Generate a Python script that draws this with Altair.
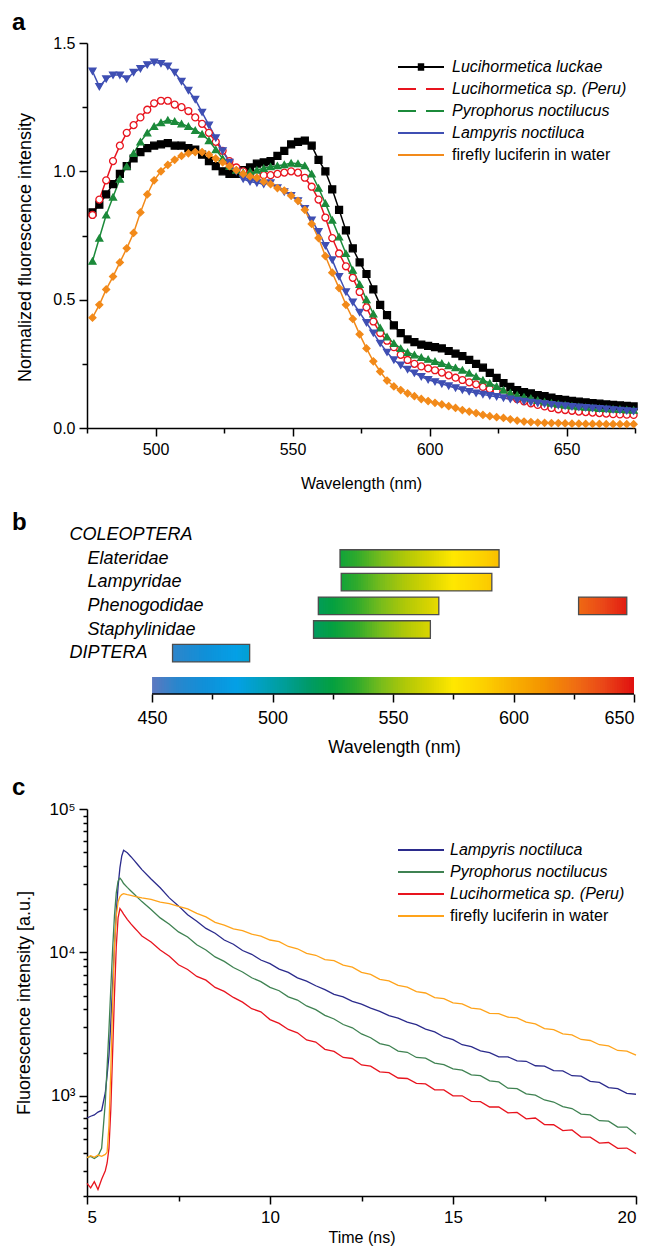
import altair as alt
import pandas as pd

FONT = "Liberation Sans"

# ---------------- panel a : normalized fluorescence spectra ----------------
wl_a = [477 + 2.5 * i for i in range(80)]

luckae = [0.84, 0.87, 0.91, 0.95, 0.99, 1.02, 1.05, 1.075, 1.09, 1.10,
          1.105, 1.11, 1.10, 1.10, 1.09, 1.085, 1.065, 1.04, 1.02, 1.00,
          0.99, 0.99, 1.005, 1.015, 1.03, 1.035, 1.04, 1.06, 1.08, 1.105,
          1.115, 1.12, 1.10, 1.045, 1.00, 0.93, 0.85, 0.77, 0.70, 0.645,
          0.60, 0.54, 0.48, 0.44, 0.40, 0.37, 0.345, 0.335, 0.325, 0.32,
          0.315, 0.31, 0.30, 0.29, 0.28, 0.265, 0.25, 0.235, 0.215, 0.195,
          0.175, 0.16, 0.148, 0.14, 0.135, 0.128, 0.124, 0.118, 0.113, 0.11,
          0.106, 0.103, 0.10, 0.097, 0.095, 0.092, 0.09, 0.088, 0.086, 0.084]
peru = [0.83, 0.89, 0.965, 1.04, 1.10, 1.15, 1.18, 1.21, 1.24, 1.265,
        1.275, 1.275, 1.26, 1.25, 1.235, 1.21, 1.185, 1.15, 1.115, 1.08,
        1.04, 1.015, 1.00, 0.99, 0.985, 0.985, 0.985, 0.99, 0.995, 1.00,
        0.995, 0.975, 0.94, 0.89, 0.82, 0.74, 0.68, 0.63, 0.585, 0.53,
        0.47, 0.415, 0.37, 0.34, 0.315, 0.285, 0.265, 0.25, 0.24, 0.232,
        0.225, 0.216, 0.205, 0.196, 0.187, 0.178, 0.17, 0.16, 0.152, 0.143,
        0.135, 0.124, 0.113, 0.104, 0.096, 0.09, 0.084, 0.078, 0.073, 0.07,
        0.067, 0.064, 0.062, 0.06, 0.058, 0.056, 0.054, 0.053, 0.052, 0.051]
pyro = [0.65, 0.74, 0.83, 0.90, 0.97, 1.02, 1.07, 1.115, 1.15, 1.175,
        1.19, 1.20, 1.195, 1.185, 1.175, 1.16, 1.145, 1.12, 1.085, 1.05,
        1.02, 1.005, 0.995, 1.00, 1.005, 1.012, 1.018, 1.022, 1.026, 1.032,
        1.03, 1.022, 0.99, 0.935, 0.875, 0.81, 0.745, 0.68, 0.615, 0.56,
        0.50, 0.445, 0.39, 0.355, 0.33, 0.31, 0.295, 0.285, 0.275, 0.268,
        0.26, 0.252, 0.243, 0.235, 0.226, 0.214, 0.20, 0.187, 0.175, 0.162,
        0.148, 0.137, 0.128, 0.121, 0.116, 0.108, 0.102, 0.097, 0.093, 0.089,
        0.086, 0.083, 0.081, 0.079, 0.077, 0.076, 0.074, 0.073, 0.071, 0.07]
lampyris = [1.39, 1.33, 1.36, 1.375, 1.375, 1.36, 1.385, 1.40, 1.415, 1.425,
            1.42, 1.41, 1.385, 1.35, 1.315, 1.28, 1.23, 1.18, 1.13, 1.08,
            1.035, 1.00, 0.97, 0.96, 0.955, 0.95, 0.955, 0.935, 0.92, 0.905,
            0.885, 0.855, 0.81, 0.765, 0.71, 0.655, 0.59, 0.53, 0.49, 0.45,
            0.41, 0.37, 0.33, 0.295, 0.265, 0.245, 0.228, 0.214, 0.20, 0.188,
            0.18, 0.172, 0.164, 0.156, 0.148, 0.142, 0.136, 0.131, 0.126, 0.122,
            0.117, 0.112, 0.108, 0.104, 0.10, 0.097, 0.094, 0.091, 0.088, 0.086,
            0.083, 0.081, 0.079, 0.077, 0.075, 0.073, 0.071, 0.069, 0.067, 0.065]
water = [0.43, 0.48, 0.54, 0.59, 0.645, 0.70, 0.76, 0.84, 0.91, 0.965,
         1.00, 1.025, 1.045, 1.06, 1.07, 1.075, 1.075, 1.065, 1.05, 1.035,
         1.02, 1.005, 0.99, 0.98, 0.975, 0.96, 0.95, 0.935, 0.925, 0.905,
         0.885, 0.85, 0.795, 0.74, 0.67, 0.605, 0.545, 0.48, 0.425, 0.365,
         0.31, 0.26, 0.22, 0.185, 0.162, 0.148, 0.135, 0.124, 0.113, 0.105,
         0.098, 0.092, 0.085, 0.078, 0.07, 0.064, 0.058, 0.051, 0.046, 0.042,
         0.039, 0.034, 0.029, 0.025, 0.023, 0.021, 0.02, 0.019, 0.019, 0.018,
         0.017, 0.017, 0.016, 0.016, 0.016, 0.015, 0.015, 0.015, 0.015, 0.015]

names_a = ["Lucihormetica luckae", "Lucihormetica sp. (Peru)", "Pyrophorus noctilucus",
           "Lampyris noctiluca", "firefly luciferin in water"]
colors_a = ["#000000", "#e8141e", "#1b8a3a", "#3f4fb3", "#f28a1a"]
fills_a = ["#000000", "#ffffff", "#1b8a3a", "#3f4fb3", "#f28a1a"]
shapes_a = ["square", "circle", "triangle-up", "triangle-down", "diamond"]
values_a = [luckae, peru, pyro, lampyris, water]

df_a = pd.concat([pd.DataFrame({"wl": wl_a, "v": vals, "series": name})
                  for name, vals in zip(names_a, values_a)], ignore_index=True)

ticks_a_x = [475, 500, 525, 550, 575, 600, 625, 650, 675]
ticks_a_y = [0, 0.25, 0.5, 0.75, 1.0, 1.25, 1.5]

xa = alt.X("wl:Q", scale=alt.Scale(domain=[475, 675], nice=False, zero=False),
           axis=alt.Axis(values=ticks_a_x, title="Wavelength (nm)",
                         labelExpr="datum.value % 50 == 0 ? datum.label : ''",
                         tickSize={"condition": {"test": "datum.value % 50 == 0", "value": 8}, "value": 5},
                         labelPadding=5, titlePadding=18, labelFontSize=16, titleFontSize=16))
ya = alt.Y("v:Q", scale=alt.Scale(domain=[0, 1.5], nice=False),
           axis=alt.Axis(values=ticks_a_y, title="Normalized fluorescence intensity",
                         labelExpr="(datum.value * 2) % 1 == 0 ? format(datum.value, '.1f') : ''",
                         tickSize={"condition": {"test": "(datum.value * 2) % 1 == 0", "value": 8}, "value": 5},
                         labelPadding=4, titlePadding=18, labelFontSize=16, titleFontSize=18, titleY=204))

italic_expr = "datum.label == 'firefly luciferin in water' ? 'normal' : 'italic'"
square_line = "M-1,0H1M-0.14,-0.12H0.14M-0.14,-0.04H0.14M-0.14,0.04H0.14M-0.14,0.12H0.14"

leg_a = alt.Legend(title=None, orient="none", legendX=310, legendY=15, padding=0,
                   symbolType={"expr": "datum.label == 'Lucihormetica luckae' ? '" + square_line + "' : 'stroke'"},
                   symbolSize=2116, symbolStrokeWidth=2,
                   symbolDash={"expr": "(datum.label == 'Lucihormetica sp. (Peru)' || datum.label == 'Pyrophorus noctilucus') ? [18, 10] : [1, 0]"},
                   labelFont=FONT, labelFontSize=16, labelOffset=7, clipHeight=18, rowPadding=4, labelLimit=0,
                   labelFontStyle={"expr": italic_expr})

lines_a = alt.Chart(df_a).mark_line(strokeWidth=1.5).encode(
    x=xa, y=ya,
    color=alt.Color("series:N", scale=alt.Scale(domain=names_a, range=colors_a), legend=leg_a),
)
points_a = alt.Chart(df_a).mark_point(filled=True, size=48, strokeWidth=1.3, opacity=1).encode(
    x=xa, y=ya,
    shape=alt.Shape("series:N", scale=alt.Scale(domain=names_a, range=shapes_a), legend=None),
    fill=alt.Fill("series:N", scale=alt.Scale(domain=names_a, range=fills_a), legend=None),
    stroke=alt.Stroke("series:N", scale=alt.Scale(domain=names_a, range=colors_a), legend=None),
)
chart_a = alt.layer(lines_a, points_a).properties(
    width=548, height=385,
    title=alt.TitleParams("a", anchor="start", frame="group", dx=-75, offset=0,
                          fontSize=24, fontWeight="bold", font=FONT))

# ---------------- panel b : emission ranges ----------------
rows_b = ["COLEOPTERA", "Elateridae", "Lampyridae", "Phenogodidae", "Staphylinidae", "DIPTERA"]
bar_rows = ["Elateridae", "Lampyridae", "Phenogodidae", "Phenogodidae", "Staphylinidae", "DIPTERA"]
bar_start = [528, 528.5, 519, 627, 517, 458.5]
bar_end = [594, 591, 569, 647, 565.5, 490.5]

spec_stops = [450, 460, 472, 485, 495, 505, 515, 525, 535, 545, 555, 565, 575, 588, 600, 612, 625, 637, 650]
spec_colors = ["#5d78c0", "#2a86cc", "#1090d8", "#04a0e6", "#02a0c0", "#009e98", "#009a68", "#04a040",
               "#30aa2c", "#78bc1c", "#b0c808", "#d8d400", "#ffe800", "#fccf00", "#f8b000", "#f49400",
               "#f07012", "#ea4818", "#e01010"]
spectrum = alt.Scale(domain=spec_stops, range=spec_colors, interpolate="rgb")


def slices(start, end, row):
    n = max(1, int(round(end - start)))
    step = (end - start) / n
    out = []
    for i in range(n):
        x0 = start + i * step
        out.append({"row": row, "x0": x0, "x1": min(x0 + step * 1.6, end), "c": x0 + step / 2})
    return out


seg_rows = []
for r, s, e in zip(bar_rows, bar_start, bar_end):
    seg_rows += slices(s, e, r)
df_seg = pd.DataFrame(seg_rows)
df_bars = pd.DataFrame({"row": bar_rows, "x0": bar_start, "x1": bar_end})

xb_scale = alt.Scale(domain=[423, 650], nice=False, zero=False)
yb = alt.Y("row:N", sort=rows_b,
           scale=alt.Scale(domain=rows_b, paddingInner=0.26, paddingOuter=0.13),
           axis=alt.Axis(title=None, domain=False, ticks=False, labelAlign="left",
                         labelPadding={"condition": {"test": "datum.value == 'COLEOPTERA' || datum.value == 'DIPTERA'", "value": 18}, "value": 0},
                         labelFontStyle="italic", labelFontSize=18, labelFont=FONT))

grad_b = alt.Chart(df_seg).mark_rect(strokeWidth=0).encode(
    x=alt.X("x0:Q", scale=xb_scale, axis=None), x2="x1:Q", y=yb,
    color=alt.Color("c:Q", scale=spectrum, legend=None))
frame_b = alt.Chart(df_bars).mark_rect(fillOpacity=0, stroke="#4d4d4d", strokeWidth=1.3).encode(
    x=alt.X("x0:Q", scale=xb_scale, axis=None), x2="x1:Q", y=yb)
chart_b = alt.layer(grad_b, frame_b).properties(
    width=547, height=142,
    title=alt.TitleParams("b", anchor="start", frame="group", dx=-75, offset=-12,
                          fontSize=24, fontWeight="bold", font=FONT))

cb_rows = slices(450, 650, "bar")
df_cb = pd.DataFrame(cb_rows)
df_cb["y0"] = 0
df_cb["y1"] = 1
ticks_b = [450, 475, 500, 525, 550, 575, 600, 625, 650]
xcb = alt.X("x0:Q", scale=xb_scale,
            axis=alt.Axis(values=ticks_b, domain=False, title="Wavelength (nm)", titleX=307,
                          labelExpr="datum.value % 50 == 0 ? datum.label : ''",
                          tickSize={"condition": {"test": "datum.value % 50 == 0", "value": 8}, "value": 5},
                          labelPadding=7, titlePadding=11, labelFontSize=18, titleFontSize=17.5))
ycb = alt.Y("y0:Q", scale=alt.Scale(domain=[0, 1]), axis=None)
cbar = alt.Chart(df_cb).mark_rect(strokeWidth=0).encode(
    x=xcb, x2="x1:Q", y=ycb, y2="y1:Q", color=alt.Color("c:Q", scale=spectrum, legend=None))
cb_line = alt.Chart(pd.DataFrame({"x0": [450], "x1": [650], "y0": [0]})).mark_rule(
    color="black", strokeWidth=1.5).encode(x=xcb, x2="x1:Q", y=ycb)
chart_cb = alt.layer(cbar, cb_line).properties(width=547, height=17)

# ---------------- panel c : fluorescence decays ----------------
t_c = [5.0, 5.1, 5.2, 5.3, 5.4, 5.5, 5.55, 5.6, 5.65, 5.7, 5.75, 5.8, 5.85, 5.9, 5.95,
       6.0, 6.1, 6.2, 6.3, 6.4, 6.5] + [6.75 + 0.25 * i for i in range(54)]

lamp_c = [700, 720, 735, 770, 790, 1050, 1400, 1900, 3200, 6000, 11000, 19000, 29000, 39000, 47000,
          51500, 49500, 46500, 43500, 40500, 37800,
          32500, 28200, 24000, 21100, 18300, 16500, 14700, 13600, 12200, 11400, 10300, 9700,
          8850, 8350, 7650, 7250, 6650, 6300, 5850, 5500, 5100, 4900, 4550, 4350,
          4080, 3880, 3620, 3480, 3260, 3130, 2920, 2790, 2570, 2460, 2270, 2200,
          2060, 2000, 1870, 1870, 1750, 1740, 1620, 1610, 1500, 1490, 1380, 1370,
          1260, 1240, 1140, 1120, 1040, 1025]
pyro_c = [370, 378, 365, 380, 430, 900, 1600, 2900, 5600, 10500, 18000, 26000, 31500, 33000, 31800,
          30200, 28400, 26800, 25300, 23900, 22600,
          19900, 17400, 15700, 13900, 12800, 11300, 10400, 9300, 8650, 7850, 7300, 6650,
          6250, 5700, 5400, 4900, 4650, 4230, 3990, 3640, 3430, 3140, 2980, 2700,
          2540, 2310, 2240, 2050, 2010, 1850, 1830, 1690, 1650, 1540, 1510, 1400,
          1380, 1270, 1250, 1130, 1120, 1030, 1010, 935, 905, 840, 815, 745,
          735, 670, 665, 605, 605, 540]
peru_c = [245, 228, 252, 222, 262, 300, 340, 430, 800, 2000, 5000, 11000, 17500, 20200, 19400,
          18500, 17000, 15800, 14800, 13900, 13000,
          11800, 10400, 9400, 8200, 7600, 6800, 6400, 5700, 5350, 4850, 4500, 4050,
          3850, 3400, 3200, 2900, 2750, 2450, 2370, 2110, 2040, 1850, 1820, 1640,
          1610, 1470, 1450, 1330, 1320, 1220, 1210, 1100, 1100, 1000, 1000, 915,
          910, 835, 835, 760, 765, 690, 700, 630, 628, 572, 578, 515,
          515, 468, 472, 430, 432, 395]
water_c = [370, 382, 372, 386, 378, 390, 405, 620, 1500, 4500, 11000, 18000, 22500, 24500, 25300,
           25700, 25300, 25000, 24600, 24300, 24000,
           23400, 22400, 21900, 20900, 20100, 18700, 17700, 16200, 15500, 14600, 14200, 13400,
           13000, 12200, 11900, 11000, 10600, 9850, 9550, 8900, 8750, 8150, 7900, 7250,
           7020, 6480, 6320, 5880, 5720, 5330, 5210, 4840, 4760, 4440, 4380, 4090,
           4020, 3760, 3740, 3540, 3490, 3260, 3170, 2940, 2890, 2700, 2660, 2470,
           2430, 2270, 2230, 2070, 2050, 1920]

names_c = ["Lampyris noctiluca", "Pyrophorus noctilucus", "Lucihormetica sp. (Peru)", "firefly luciferin in water"]
colors_c = ["#2b2b8c", "#3f8252", "#e8141e", "#ffa31a"]
values_c = [lamp_c, pyro_c, peru_c, water_c]

df_c = pd.concat([pd.DataFrame({"t": t_c, "v": vals, "series": name})
                  for name, vals in zip(names_c, values_c)], ignore_index=True)

ticks_c_y = [200, 300, 400, 500, 600, 700, 800, 900,
             1000, 2000, 3000, 4000, 5000, 6000, 7000, 8000, 9000,
             10000, 20000, 30000, 40000, 50000, 60000, 70000, 80000, 90000, 100000]
major_c = "datum.value == 1000 || datum.value == 10000 || datum.value == 100000"

leg_c = alt.Legend(title=None, orient="none", legendX=310, legendY=32, padding=0,
                   symbolType="stroke", symbolSize=2116, symbolStrokeWidth=2,
                   labelFont=FONT, labelFontSize=16, labelOffset=5, clipHeight=18, rowPadding=4, labelLimit=0,
                   labelFontStyle={"expr": italic_expr})

chart_c = alt.Chart(df_c).mark_line(strokeWidth=1.3).encode(
    x=alt.X("t:Q", scale=alt.Scale(domain=[5, 20], nice=False, zero=False),
            axis=alt.Axis(values=[5, 7.5, 10, 12.5, 15, 17.5, 20], title="Time (ns)",
                          labelExpr="datum.value % 5 == 0 ? datum.label : ''",
                          tickSize={"condition": {"test": "datum.value % 5 == 0", "value": 8}, "value": 5},
                          labelPadding=5, titlePadding=4, labelFontSize=17, titleFontSize=16)),
    y=alt.Y("v:Q", scale=alt.Scale(type="log", domain=[200, 100000], nice=False),
            axis=alt.Axis(values=ticks_c_y, title="Fluorescence intensity [a.u.]",
                          labelExpr="datum.value == 1000 ? '10\u00b3' : datum.value == 10000 ? '10\u2074' : datum.value == 100000 ? '10\u2075' : ''",
                          tickSize={"condition": {"test": major_c, "value": 8}, "value": 4},
                          labelPadding=4, titlePadding=15, labelFontSize=17, titleFontSize=18)),
    color=alt.Color("series:N", scale=alt.Scale(domain=names_c, range=colors_c), legend=leg_c),
).properties(
    width=549, height=387,
    title=alt.TitleParams("c", anchor="start", frame="group", dx=-75, offset=0,
                          fontSize=24, fontWeight="bold", font=FONT))

panel_b = alt.vconcat(chart_b, chart_cb, spacing=12, bounds="flush")
upper = alt.vconcat(chart_a, panel_b, spacing=20).resolve_scale(color="independent").resolve_legend(color="independent")
chart = alt.vconcat(upper, chart_c, spacing=20).resolve_scale(
    color="independent").resolve_legend(color="independent").properties(
    padding={"left": 4, "top": 3, "right": 4, "bottom": 4}
).configure_view(stroke=None).configure_axis(
    labelFont=FONT, titleFont=FONT, labelFontSize=15, titleFontSize=16, titleFontWeight="normal",
    labelColor="black", titleColor="black", domainColor="black", tickColor="black",
    domainWidth=1.5, tickWidth=1.5, grid=False
)

chart.save("out.html", embed_options={"renderer": "svg", "actions": False})
